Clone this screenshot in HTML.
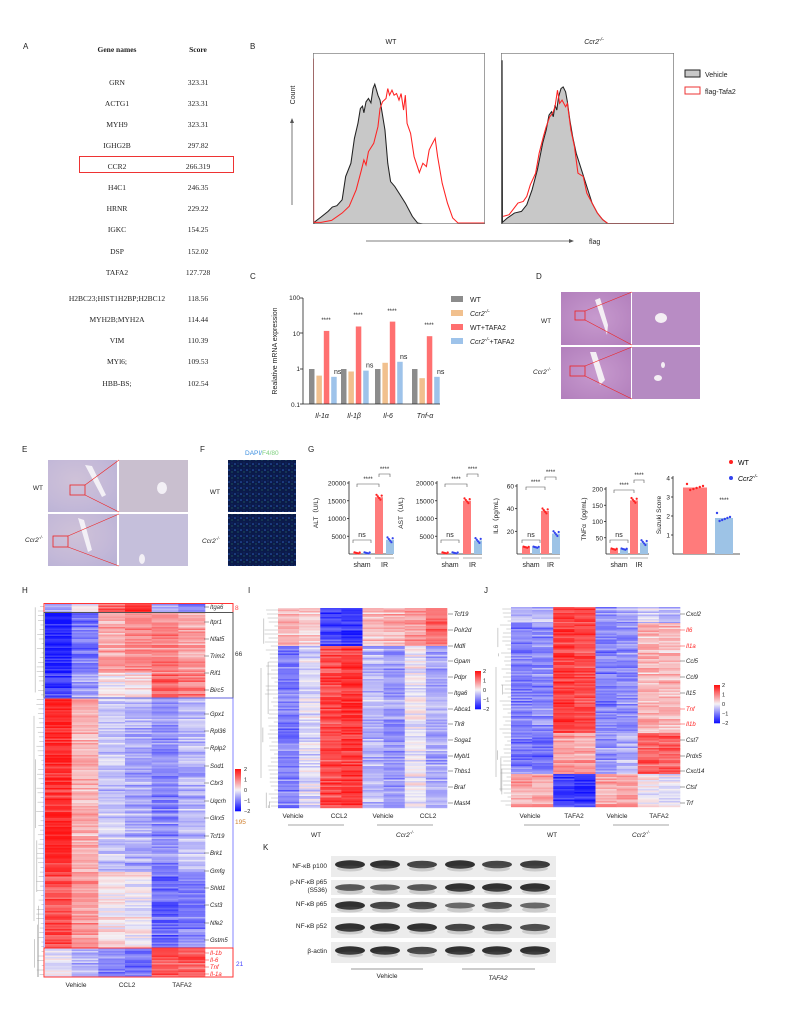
<!DOCTYPE html>
<html><head><meta charset="utf-8">
<style>
body{margin:0;background:#fff;}
#root{position:relative;width:793px;height:1024px;overflow:hidden;background:#fff;font-family:"Liberation Sans",sans-serif;}
svg{font-family:"Liberation Sans",sans-serif;}
.ser text{font-family:"Liberation Serif",serif;}
</style></head>
<body><div id="root">
<svg id="s" width="793" height="1024" viewBox="0 0 793 1024" xmlns="http://www.w3.org/2000/svg">
<!-- Panel A table -->
<text x="23" y="49" font-size="8" fill="#222">A</text>
<g class="ser" font-size="7.5" text-anchor="middle" fill="#222">
<text x="117" y="52" font-weight="bold">Gene names</text><text x="198" y="52" font-weight="bold">Score</text>
<text x="117" y="85">GRN</text><text x="198" y="85">323.31</text>
<text x="117" y="106">ACTG1</text><text x="198" y="106">323.31</text>
<text x="117" y="127">MYH9</text><text x="198" y="127">323.31</text>
<text x="117" y="148">IGHG2B</text><text x="198" y="148">297.82</text>
<text x="117" y="169">CCR2</text><text x="198" y="169">266.319</text>
<text x="117" y="190">H4C1</text><text x="198" y="190">246.35</text>
<text x="117" y="211">HRNR</text><text x="198" y="211">229.22</text>
<text x="117" y="232">IGKC</text><text x="198" y="232">154.25</text>
<text x="117" y="254">DSP</text><text x="198" y="254">152.02</text>
<text x="117" y="275">TAFA2</text><text x="198" y="275">127.728</text>
<text x="117" y="301">H2BC23;HIST1H2BP;H2BC12</text><text x="198" y="301">118.56</text>
<text x="117" y="322">MYH2B;MYH2A</text><text x="198" y="322">114.44</text>
<text x="117" y="343">VIM</text><text x="198" y="343">110.39</text>
<text x="117" y="364">MYl6;</text><text x="198" y="364">109.53</text>
<text x="117" y="386">HBB-BS;</text><text x="198" y="386">102.54</text>
</g>
<rect x="79.5" y="156.5" width="154" height="16" fill="none" stroke="#e33" stroke-width="1"/>

<!-- Panel B -->
<g font-size="7" fill="#222">
<text x="250" y="49" font-size="8">B</text>
<text x="391" y="44" text-anchor="middle">WT</text>
<text x="594" y="44" text-anchor="middle" font-style="italic">Ccr2<tspan font-size="5" dy="-3">-/-</tspan></text>
<text transform="translate(295,95) rotate(-90)" text-anchor="middle">Count</text>
<text x="589" y="244">flag</text>
<text x="705" y="77">Vehicle</text>
<text x="705" y="94">flag-Tafa2</text>
</g>
<line x1="292" y1="205" x2="292" y2="122" stroke="#555" stroke-width="0.8"/>
<polygon points="292,118 290,123 294,123" fill="#555"/>
<line x1="366" y1="241" x2="570" y2="241" stroke="#555" stroke-width="0.8"/>
<polygon points="574,241 569,239 569,243" fill="#555"/>
<rect x="685" y="70" width="15" height="7" fill="#c8c8c8" stroke="#222" stroke-width="1"/>
<rect x="685" y="87" width="15" height="7" fill="#fff" stroke="#e33" stroke-width="1"/>
<svg x="313" y="53" width="172" height="171" viewBox="207 68 490 515" preserveAspectRatio="none">
<polygon fill="#c8c8c8" stroke="#222" stroke-width="3" points="210,583 210,578 230,562 250,545 262,532 275,528 290,510 300,440 315,400 325,325 335,280 342,235 348,228 352,248 358,215 365,205 372,218 378,175 383,162 388,180 392,195 398,210 405,255 412,300 420,400 428,455 440,470 455,495 470,520 490,560 505,580 520,583"/>
<polyline fill="none" stroke="#f22" stroke-width="3" points="208,85 209,578 230,578 260,572 290,550 310,530 330,480 345,420 352,390 358,405 365,365 380,340 392,290 398,235 405,215 415,205 420,175 425,195 432,180 438,195 445,190 452,210 458,190 465,240 470,195 475,280 485,310 495,380 510,428 520,400 530,410 538,360 545,345 555,325 562,380 575,460 590,520 605,565 620,580 697,580"/>
<rect x="207" y="68" width="490" height="515" fill="none" stroke="#777" stroke-width="4"/>
</svg>
<svg x="501" y="53" width="173" height="171" viewBox="742 68 490 515" preserveAspectRatio="none">
<polygon fill="#c8c8c8" stroke="#222" stroke-width="3" points="745,583 745,90 746,578 760,565 780,550 800,545 815,525 830,480 845,420 860,340 870,300 878,255 885,245 890,260 895,225 900,240 905,200 912,175 918,170 925,185 930,215 937,270 945,320 955,370 970,420 985,470 1000,520 1015,550 1030,570 1045,582 1232,582"/>
<polyline fill="none" stroke="#f22" stroke-width="3" points="748,560 765,555 790,520 805,515 815,500 825,465 840,430 850,370 862,320 870,290 880,260 888,250 895,230 902,180 908,220 915,210 925,230 930,220 940,300 950,350 960,430 975,440 985,490 1000,520 1015,550 1030,570 1045,582 1232,582"/>
<rect x="742" y="68" width="490" height="515" fill="none" stroke="#777" stroke-width="4"/>
</svg>

<!-- Panel C -->
<g font-size="7" fill="#222">
<text x="250" y="279" font-size="8">C</text>
<text transform="translate(277,351) rotate(-90)" text-anchor="middle">Realative mRNA expression</text>
<text x="300" y="300" text-anchor="end" font-size="6.5">100</text>
<text x="300" y="336" text-anchor="end" font-size="6.5">10</text>
<text x="300" y="371" text-anchor="end" font-size="6.5">1</text>
<text x="300" y="407" text-anchor="end" font-size="6.5">0.1</text>
<g font-style="italic" text-anchor="middle">
<text x="322" y="418">Il-1α</text><text x="354" y="418">Il-1β</text><text x="388" y="418">Il-6</text><text x="425" y="418">Tnf-α</text></g>
<text x="470" y="302">WT</text>
<text x="470" y="316" font-style="italic">Ccr2<tspan font-size="5" dy="-3">-/-</tspan></text>
<text x="470" y="330">WT+TAFA2</text>
<text x="470" y="344" font-style="italic">Ccr2<tspan font-size="5" dy="-3">-/-</tspan><tspan font-style="normal" dy="3">+TAFA2</tspan></text>
</g>
<rect x="451" y="296" width="12" height="6" fill="#8c8c8c"/>
<rect x="451" y="310" width="12" height="6" fill="#f1c08e"/>
<rect x="451" y="324" width="12" height="6" fill="#ff7070"/>
<rect x="451" y="338" width="12" height="6" fill="#9ec3ea"/>
<g id="cbars"></g>
<line x1="303" y1="298" x2="303" y2="404" stroke="#222" stroke-width="0.8"/>
<line x1="303" y1="404" x2="440" y2="404" stroke="#222" stroke-width="0.8"/>
<g stroke="#222" stroke-width="0.8"><line x1="300" y1="298" x2="303" y2="298"/><line x1="300" y1="333" x2="303" y2="333"/><line x1="300" y1="369" x2="303" y2="369"/><line x1="300" y1="404" x2="303" y2="404"/></g>

<!-- Panel D -->
<text x="536" y="279" font-size="8" fill="#222">D</text>
<text x="546" y="323" font-size="6.5" text-anchor="middle" fill="#222">WT</text>
<text x="542" y="374" font-size="6.5" text-anchor="middle" font-style="italic" fill="#222">Ccr2<tspan font-size="4.5" dy="-3">-/-</tspan></text>
<defs>
<radialGradient id="he" cx="0.5" cy="0.5" r="0.7"><stop offset="0" stop-color="#c79ace"/><stop offset="1" stop-color="#b27fbc"/></radialGradient>
<radialGradient id="ihc" cx="0.4" cy="0.4" r="0.8"><stop offset="0" stop-color="#cfc2d8"/><stop offset="0.6" stop-color="#c4b9d8"/><stop offset="1" stop-color="#b9b2d6"/></radialGradient>
<pattern id="dots" width="6" height="6" patternUnits="userSpaceOnUse"><rect width="6" height="6" fill="#0b1a4a"/><circle cx="1" cy="2" r="0.8" fill="#2c5fb8"/><circle cx="4" cy="4" r="0.6" fill="#2a7a6a"/><circle cx="4" cy="1" r="0.5" fill="#1c3c90"/></pattern>
</defs>
<rect x="561" y="292" width="70" height="53" fill="url(#he)"/>
<rect x="632" y="292" width="68" height="53" fill="#b88cc4"/>
<rect x="561" y="347" width="70" height="52" fill="url(#he)"/>
<rect x="632" y="347" width="68" height="52" fill="#b58ac2"/>
<path d="M595 300 L600 298 L608 325 L607 335 Z" fill="#f4eef4"/>
<path d="M590 352 L596 352 L605 380 L600 385 Z" fill="#f4eef4"/>
<ellipse cx="661" cy="318" rx="6" ry="5" fill="#f4eef4"/>
<ellipse cx="658" cy="378" rx="4" ry="3" fill="#f4eef4"/><ellipse cx="663" cy="365" rx="2" ry="3" fill="#f4eef4"/>
<rect x="575" y="311" width="10" height="9" fill="none" stroke="#e22" stroke-width="0.8"/>
<line x1="585" y1="311" x2="632" y2="292" stroke="#e22" stroke-width="0.6"/><line x1="585" y1="320" x2="632" y2="345" stroke="#e22" stroke-width="0.6"/>
<rect x="570" y="366" width="15" height="10" fill="none" stroke="#e22" stroke-width="0.8"/>
<line x1="585" y1="366" x2="632" y2="347" stroke="#e22" stroke-width="0.6"/><line x1="585" y1="376" x2="632" y2="399" stroke="#e22" stroke-width="0.6"/>

<!-- Panel E -->
<text x="22" y="452" font-size="8" fill="#222">E</text>
<text x="43" y="490" font-size="6.5" text-anchor="end" fill="#222">WT</text>
<text x="43" y="542" font-size="6.5" text-anchor="end" font-style="italic" fill="#222">Ccr2<tspan font-size="4.5" dy="-3">-/-</tspan></text>
<rect x="48" y="460" width="69" height="52" fill="url(#ihc)"/>
<rect x="119" y="460" width="69" height="52" fill="#c9bfcf"/>
<rect x="48" y="514" width="69" height="52" fill="url(#ihc)"/>
<rect x="119" y="514" width="69" height="52" fill="#c5bfdb"/>
<path d="M85 465 L92 466 L106 495 L102 497 Z" fill="#f3f0f6"/>
<path d="M78 518 L84 520 L92 550 L88 552 Z" fill="#f3f0f6"/>
<ellipse cx="162" cy="488" rx="5" ry="6" fill="#f3f0f6"/><ellipse cx="142" cy="559" rx="3" ry="5" fill="#f3f0f6"/>
<rect x="70" y="485" width="15" height="10" fill="none" stroke="#e22" stroke-width="0.8"/>
<line x1="85" y1="485" x2="119" y2="460" stroke="#e22" stroke-width="0.6"/><line x1="85" y1="495" x2="119" y2="512" stroke="#e22" stroke-width="0.6"/>
<rect x="53" y="536" width="15" height="11" fill="none" stroke="#e22" stroke-width="0.8"/>
<line x1="68" y1="536" x2="119" y2="514" stroke="#e22" stroke-width="0.6"/><line x1="68" y1="547" x2="119" y2="566" stroke="#e22" stroke-width="0.6"/>

<!-- Panel F -->
<text x="200" y="452" font-size="8" fill="#222">F</text>
<text x="245" y="455" font-size="6.5" fill="#3a8ee0">DAPI/<tspan fill="#7ed07e">F4/80</tspan></text>
<text x="220" y="494" font-size="6.5" text-anchor="end" fill="#222">WT</text>
<text x="220" y="543" font-size="6.5" text-anchor="end" font-style="italic" fill="#222">Ccr2<tspan font-size="4.5" dy="-3">-/-</tspan></text>
<rect x="228" y="460" width="68" height="52" fill="url(#dots)"/>
<rect x="228" y="514" width="68" height="52" fill="url(#dots)"/>

<!-- Panel G -->
<text x="308" y="452" font-size="8" fill="#222">G</text>
<g id="gpanels" font-size="6.5" fill="#222"></g>
<circle cx="731" cy="462" r="2" fill="#f22"/><text x="738" y="465" font-size="7">WT</text>
<circle cx="731" cy="478" r="2" fill="#34e"/><text x="738" y="481" font-size="7" font-style="italic">Ccr2<tspan font-size="5" dy="-3">-/-</tspan></text>

<!-- Panel H -->
<text x="22" y="593" font-size="8" fill="#222">H</text>
<text x="248" y="593" font-size="8" fill="#222">I</text>
<text x="484" y="593" font-size="8" fill="#222">J</text>
<g id="hm"></g>
<rect x="44" y="603.5" width="189" height="9" fill="none" stroke="#f33" stroke-width="1"/>
<rect x="44" y="612.5" width="189" height="85.5" fill="none" stroke="#555" stroke-width="1"/>
<rect x="44" y="698" width="189" height="250" fill="none" stroke="#66f" stroke-width="0.8"/>
<rect x="44" y="948" width="189" height="29" fill="none" stroke="#f33" stroke-width="1"/>
<text x="235" y="610" font-size="6.5" fill="#f44">8</text>
<text x="235" y="656" font-size="6.5" fill="#333">66</text>
<text x="235" y="824" font-size="6.5" fill="#d08030">195</text>
<text x="236" y="966" font-size="6.5" fill="#44f">21</text>
<g font-size="6.5" fill="#222" text-anchor="middle">
<text x="76" y="987">Vehicle</text><text x="127" y="987">CCL2</text><text x="182" y="987">TAFA2</text>
<text x="293" y="818">Vehicle</text><text x="339" y="818">CCL2</text><text x="383" y="818">Vehicle</text><text x="428" y="818">CCL2</text>
<text x="316" y="837">WT</text><text x="405" y="837" font-style="italic">Ccr2<tspan font-size="4.5" dy="-3">-/-</tspan></text>
<text x="530" y="818">Vehicle</text><text x="574" y="818">TAFA2</text><text x="617" y="818">Vehicle</text><text x="659" y="818">TAFA2</text>
<text x="552" y="837">WT</text><text x="641" y="837" font-style="italic">Ccr2<tspan font-size="4.5" dy="-3">-/-</tspan></text>
</g>
<g stroke="#888" stroke-width="0.8">
<line x1="288" y1="825" x2="344" y2="825"/><line x1="377" y1="825" x2="433" y2="825"/>
<line x1="524" y1="825" x2="580" y2="825"/><line x1="613" y1="825" x2="669" y2="825"/>
</g>

<!-- Panel K -->
<text x="263" y="850" font-size="8" fill="#222">K</text>
<g font-size="6.5" fill="#222" text-anchor="end">
<text x="327" y="868">NF-κB p100</text>
<text x="327" y="884">p-NF-κB p65</text><text x="327" y="892">(S536)</text>
<text x="327" y="906">NF-κB p65</text>
<text x="327" y="928">NF-κB p52</text>
<text x="327" y="953">β-actin</text>
</g>
<g id="blots"></g>
<line x1="351" y1="969" x2="423" y2="969" stroke="#777" stroke-width="0.8"/>
<line x1="462" y1="969" x2="535" y2="969" stroke="#777" stroke-width="0.8"/>
<text x="387" y="978" font-size="6.5" text-anchor="middle" fill="#222">Vehicle</text>
<text x="498" y="980" font-size="6.5" text-anchor="middle" font-style="italic" fill="#222">TAFA2</text>
</svg>
</div>
<script>
var NS="http://www.w3.org/2000/svg";
function el(p,t,a,txt){var e=document.createElementNS(NS,t);for(var k in a)e.setAttribute(k,a[k]);if(txt!==undefined)e.textContent=txt;p.appendChild(e);return e;}
var cb=document.getElementById('cbars');
var cols=['#8c8c8c','#f1c08e','#ff7070','#9ec3ea'];
var vals=[[1,0.65,12,0.6],[1,0.85,16,0.9],[1,1.5,22,1.6],[1,0.55,8.5,0.6]];
var centers=[322,354,388,425];var star=[322,317,313,327];
function ly(v){return 369-Math.log10(v)*35.3;}
for(var g=0;g<4;g++){for(var b=0;b<4;b++){var x=centers[g]-13+b*7.4;var y=ly(vals[g][b]);
el(cb,'rect',{x:x,y:y,width:5.5,height:404-y,fill:cols[b]});}
el(cb,'text',{x:centers[g]+4,y:star[g],'font-size':6,'text-anchor':'middle',fill:'#222'},'****');
el(cb,'text',{x:centers[g]+12,y:ly(vals[g][3])-3,'font-size':7,fill:'#222'},'ns');}
var gp=document.getElementById('gpanels');
var P=[{ax:349,x1:393,top:483,max:20000,ticks:[5000,10000,15000,20000],lab:'ALT（U/L)',lx:318,v:[300,300,16000,4000],bx:[353,363,375,386]},
{ax:437,x1:482,top:483,max:20000,ticks:[5000,10000,15000,20000],lab:'AST（U/L)',lx:403,v:[300,300,15000,3800],bx:[441,451,463,474]},
{ax:517,x1:560,top:486,max:60,ticks:[20,40,60],lab:'IL6（pg/mL)',lx:498,v:[6,6,38,18],bx:[522,532,541,552]},
{ax:606,x1:649,top:489,max:200,ticks:[50,100,150,200],lab:'TNFα（pg/mL)',lx:586,v:[15,15,165,35],bx:[610,620,630,640]}];
P.forEach(function(p){var base=554,h=base-p.top;
el(gp,'line',{x1:p.ax,y1:p.top-2,x2:p.ax,y2:base,stroke:'#222','stroke-width':0.8});
el(gp,'line',{x1:p.ax,y1:base,x2:p.x1,y2:base,stroke:'#222','stroke-width':0.8});
p.ticks.forEach(function(t){var y=base-t/p.max*h;el(gp,'line',{x1:p.ax-2,y1:y,x2:p.ax,y2:y,stroke:'#222','stroke-width':0.8});el(gp,'text',{x:p.ax-3,y:y+2.5,'text-anchor':'end'},t);});
el(gp,'text',{transform:'translate('+p.lx+','+(p.top+30)+') rotate(-90)','text-anchor':'middle'},p.lab);
for(var i=0;i<4;i++){var y=base-p.v[i]/p.max*h;var c=(i%2==0)?'#ff7b7b':'#9dc3e6';var d=(i%2==0)?'#f22':'#34e';
el(gp,'rect',{x:p.bx[i],y:y,width:8,height:base-y,fill:c});
for(var k=0;k<5;k++){el(gp,'circle',{cx:p.bx[i]+1.5+k*1.3,cy:y+((k*37)%7-3)*(i>=2?0.8:0.2),r:1.1,fill:d});}}
var m1=(p.bx[0]+p.bx[1]+8)/2,m2=(p.bx[2]+p.bx[3]+8)/2;
el(gp,'line',{x1:p.bx[0],y1:base+4,x2:p.bx[1]+8,y2:base+4,stroke:'#999','stroke-width':0.7});
el(gp,'line',{x1:p.bx[2],y1:base+4,x2:p.bx[3]+8,y2:base+4,stroke:'#999','stroke-width':0.7});
el(gp,'text',{x:m1,y:base+13,'text-anchor':'middle','font-size':7},'sham');
el(gp,'text',{x:m2,y:base+13,'text-anchor':'middle','font-size':7},'IR');
el(gp,'path',{d:'M'+p.bx[0]+' '+(base-11)+' v-3 H'+(p.bx[1]+8)+' v3',fill:'none',stroke:'#555','stroke-width':0.6});
el(gp,'text',{x:m1,y:base-17,'text-anchor':'middle','font-size':7},'ns');
el(gp,'path',{d:'M'+(p.bx[0]+4)+' '+(p.top+4)+' v-3 H'+(p.bx[2]+4)+' v3',fill:'none',stroke:'#555','stroke-width':0.6});
el(gp,'text',{x:(p.bx[0]+p.bx[2])/2+4,y:p.top-2,'text-anchor':'middle','font-size':6},'****');
el(gp,'path',{d:'M'+(p.bx[2]+4)+' '+(p.top-6)+' v-3 H'+(p.bx[3]+4)+' v3',fill:'none',stroke:'#555','stroke-width':0.6});
el(gp,'text',{x:(p.bx[2]+p.bx[3])/2+4,y:p.top-12,'text-anchor':'middle','font-size':6},'****');
});
(function(){var ax=673,base=554;el(gp,'line',{x1:ax,y1:476,x2:ax,y2:base,stroke:'#222','stroke-width':0.8});
el(gp,'line',{x1:ax,y1:base,x2:740,y2:base,stroke:'#222','stroke-width':0.8});
[1,2,3,4].forEach(function(t){var y=base-t*19;el(gp,'line',{x1:ax-2,y1:y,x2:ax,y2:y,stroke:'#222','stroke-width':0.8});el(gp,'text',{x:ax-3,y:y+2.5,'text-anchor':'end'},t);});
el(gp,'rect',{x:683,y:487.5,width:24,height:66.5,fill:'#ff7b7b'});el(gp,'rect',{x:715,y:518,width:18,height:36,fill:'#9dc3e6'});
for(var k=0;k<6;k++){el(gp,'circle',{cx:687+k*3.2,cy:484+(k*13%7),r:1.2,fill:'#f22'});el(gp,'circle',{cx:717+k*2.6,cy:513+(k*17%9),r:1.2,fill:'#34e'});}
el(gp,'text',{x:724,y:502,'text-anchor':'middle','font-size':6},'****');
el(gp,'text',{transform:'translate(661,515) rotate(-90)','text-anchor':'middle'},'Suzuki Score');})();
var seed=7;function rnd(){seed=(seed*16807)%2147483647;return seed/2147483647;}
function col(v){v=Math.max(-2,Math.min(2,v));var r,g,b;
if(v>=0){var t=v/2;r=245+10*t;g=242-222*t;b=245-225*t;}else{var t=-v/2;r=245-229*t;g=242-226*t;b=245+10*t;}
return 'rgb('+Math.round(r)+','+Math.round(g)+','+Math.round(b)+')';}
var hm=document.getElementById('hm');
function heat(x0,x1,blocks){var n=blocks[0].v.length,w=(x1-x0)/n;
blocks.forEach(function(bl){for(var y=bl.a;y<bl.b;y+=1.5){var h=Math.min(1.5,bl.b-y);var rn=(rnd()-0.5)*0.8;
for(var c=0;c<n;c++){el(hm,'rect',{x:x0+c*w,y:y,width:w+0.3,height:h+0.2,fill:col(bl.v[c]+rn*0.6+(rnd()-0.5)*0.6)});}}});}
heat(45,205,[{a:604,b:612,v:[-0.8,0,1.3,1.6,-0.7,-1.0]},{a:612,b:673,v:[-1.9,-1.1,0.7,0.9,1.0,0.7]},{a:673,b:698,v:[-1.5,-0.7,0.1,0.2,1.3,1.1]},{a:698,b:872,v:[1.8,0.6,-0.4,-0.6,-0.9,-0.5]},{a:872,b:948,v:[1.4,0.8,0.1,0,-1.2,-1.0]},{a:948,b:977,v:[-0.2,-0.6,-1.0,-1.2,1.3,1.3]}]);
heat(278,447,[{a:608,b:646,v:[0.5,0.3,-1.5,-1.7,0.4,0.6,0.8,1.2]},{a:646,b:808,v:[-1.0,-0.2,1.5,1.7,-0.5,-0.8,0,-0.6]}]);
heat(511,680,[{a:607,b:623,v:[-0.6,-0.5,1.6,1.6,-0.8,-0.7,-0.3,-0.5]},{a:623,b:733,v:[-1.0,-0.9,1.6,1.5,-1.0,-0.9,0.5,0.5]},{a:733,b:774,v:[-1.0,-1.2,0.8,0.7,-0.8,-0.6,1.3,1.3]},{a:774,b:807,v:[0.7,0.7,-1.6,-1.6,0.7,0.8,0.1,-0.1]}]);
function cbar(x,y0,y1,lx){for(var i=0;i<40;i++){var v=2-4*i/39;el(hm,'rect',{x:x,y:y0+(y1-y0)*i/40,width:6,height:(y1-y0)/40+0.3,fill:col(v)});}
['2','1','0','−1','−2'].forEach(function(t,i){el(hm,'text',{x:lx,y:y0+2+(y1-y0)*i/4,'font-size':5.5,fill:'#222'},t);});}
cbar(235,769,811,244);cbar(475,671,709,483);cbar(714,685,723,722);
function dend(x0,x1,y0,y1,n){for(var i=0;i<n;i++){var y=y0+(y1-y0)*(i+0.5)/n;var xx=x1-(x1-x0)*(0.2+rnd()*0.6);
el(hm,'line',{x1:xx,y1:y,x2:x1,y2:y,stroke:'#999','stroke-width':0.4});}
for(var j=0;j<6;j++){var a=y0+(y1-y0)*rnd(),b=a+(y1-y0)*0.3*rnd();var xx=x0+(x1-x0)*rnd()*0.7;el(hm,'line',{x1:xx,y1:a,x2:xx,y2:Math.min(b,y1),stroke:'#999','stroke-width':0.5});}
el(hm,'line',{x1:x0,y1:y0+(y1-y0)*0.3,x2:x0,y2:y0+(y1-y0)*0.85,stroke:'#999','stroke-width':0.5});}
dend(34,44,604,977,80);dend(261,278,608,808,50);dend(496,511,607,807,50);
function labs(x,list){list.forEach(function(l){var c=l[2]||'#222';
el(hm,'line',{x1:x-5,y1:l[1]-2,x2:x,y2:l[1]-2,stroke:c==='#222'?'#444':c,'stroke-width':0.5});
el(hm,'text',{x:x+1,y:l[1],'font-size':6,'font-style':'italic',fill:c},l[0]);});}
labs(209,[['Itga6',609,'#333'],['Itpr1',624],['Nfat5',641],['Trim2',658],['Rif1',675],['Birc5',692],['Gpx1',716],['Rpl36',733],['Rplp2',750],['Sod1',768],['Cbr3',785],['Uqcrh',803],['Glrx5',820],['Tcf19',838],['Brk1',855],['Gmfg',873],['Shld1',890],['Cst3',907],['Nfe2',925],['Gstm5',942],['Il-1b',955,'#f22'],['Il-6',962,'#f22'],['Tnf',969,'#f22'],['Il-1a',976,'#f22']]);
labs(453,[['Tcf19',616],['Polr2d',632],['Mdfi',648],['Gpam',663],['Pdpr',679],['Itga6',695],['Abca1',711],['Tlr8',726],['Soga1',742],['Mybl1',758],['Thbs1',773],['Braf',789],['Mast4',805]]);
labs(685,[['Cxcl2',616],['Il6',632,'#f22'],['Il1a',648,'#f22'],['Ccl5',663],['Ccl9',679],['Il15',695],['Tnf',711,'#f22'],['Il1b',726,'#f22'],['Cst7',742],['Prdx5',758],['Cxcl14',773],['Ctsf',789],['Trf',805]]);
var bl=document.getElementById('blots');
var strips=[[856,877,[1,1,0.9,1,0.9,0.95],-2],[880,895,[0.8,0.75,0.8,1,1,1],0],[898,913,[1,0.9,0.9,0.7,0.85,0.7],0],[917,938,[1,1,1,0.9,0.9,0.85],0],[942,963,[1,1,0.9,1,1,1],-2]];
var lanes=[350,385,422,460,497,535];
strips.forEach(function(s){el(bl,'rect',{x:331,y:s[0],width:225,height:s[1]-s[0],fill:'#ececec'});
var cy=(s[0]+s[1])/2+s[3];
lanes.forEach(function(cx,i){var a=s[2][i];el(bl,'ellipse',{cx:cx,cy:cy,rx:15,ry:4.2*a,fill:'#111','fill-opacity':0.85*a});
el(bl,'ellipse',{cx:cx,cy:cy+4,rx:13,ry:3,fill:'#666','fill-opacity':0.25});});});
</script>
</body></html>
